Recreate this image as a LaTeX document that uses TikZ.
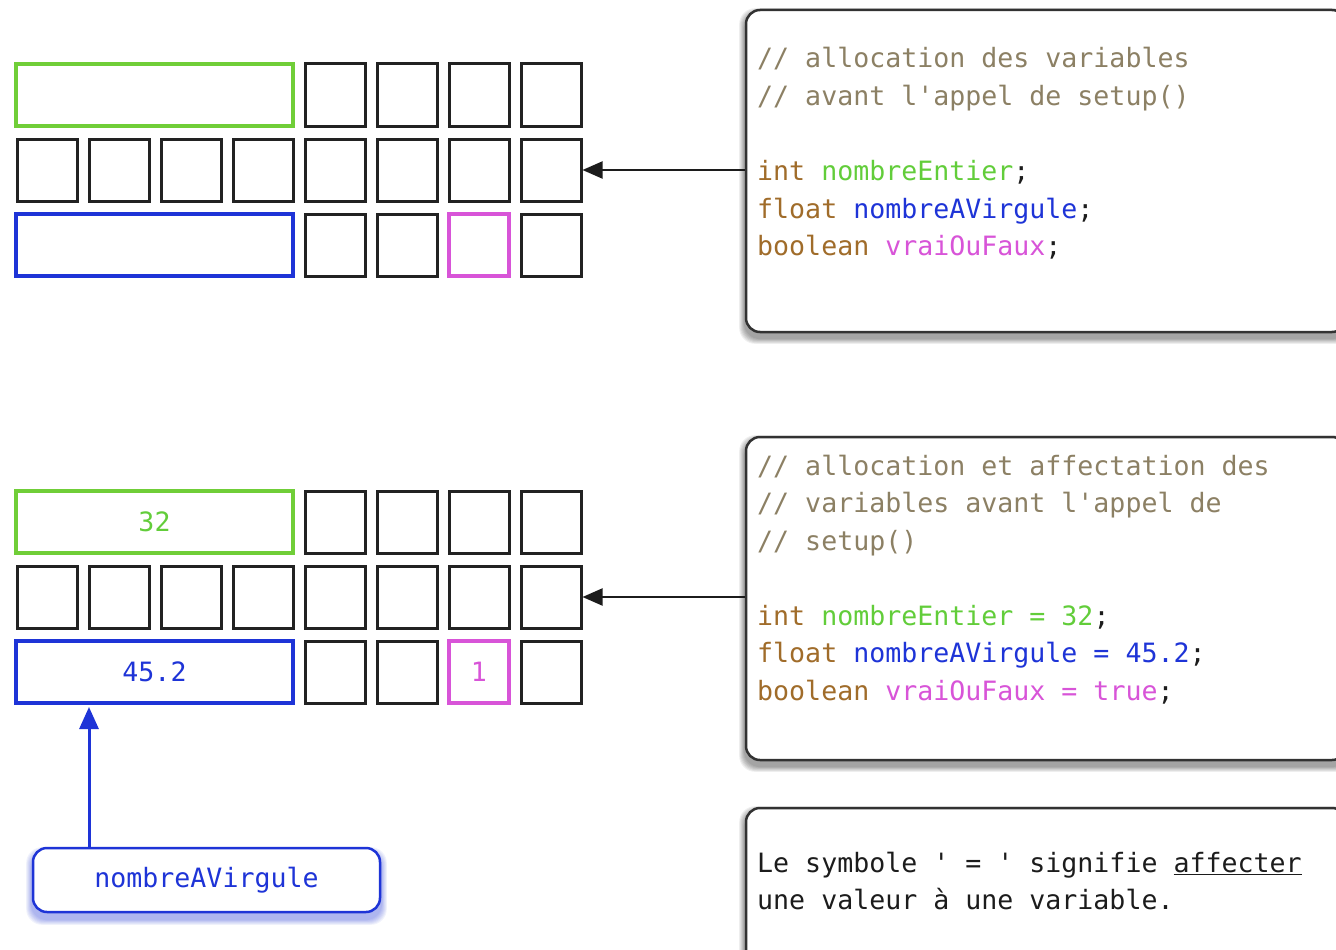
\documentclass[tikz,border=0pt]{standalone}
\usepackage{fontspec}
\setmonofont{DejaVu Sans Mono}
\usetikzlibrary{arrows.meta,backgrounds,calc}

\definecolor{cmt}{RGB}{140,128,100}
\definecolor{kw}{RGB}{160,108,42}
\definecolor{grn}{RGB}{98,205,58}
\definecolor{grnbox}{RGB}{112,206,56}
\definecolor{blu}{RGB}{30,52,215}
\definecolor{pnk}{RGB}{216,84,216}
\definecolor{ink}{RGB}{28,28,28}
\definecolor{cellk}{RGB}{34,34,34}
\definecolor{frame}{RGB}{50,50,50}

% soft halo behind a node: node name, colour, downward offset
\newcommand{\boxglow}[3]{%
  \begin{scope}[on background layer]
    \foreach \k in {1,...,7}
      \fill[#2, opacity=0.06, rounded corners=16pt]
        ($(#1.south west)+(-\k*0.8, #3+\k*0.8)$) rectangle
        ($(#1.north east)+(\k*0.8, #3-\k*0.8)$);
  \end{scope}}

\tikzset{
  mono/.style={font=\ttfamily\fontsize{26.6}{37.5}\selectfont},
  code/.style={mono, anchor=base west, inner sep=0pt, text=ink},
  cell/.style={draw=cellk, line width=3pt, minimum width=60pt,
               minimum height=62pt, inner sep=0pt},
  wide/.style={cell, line width=3.5pt, minimum width=277pt},
  num/.style={mono, inner sep=0pt},
  codebox/.style={draw=frame, line width=2.5pt, fill=white,
                  rounded corners=14pt, minimum width=600pt},
  lbl/.style={draw=blu, line width=2.5pt, fill=white, rounded corners=14pt,
              minimum width=347pt, minimum height=64pt, mono, text=blu},
  link/.style={draw=ink, line width=2pt,
               -{Triangle[length=20pt,width=17pt]}},
  bluelink/.style={draw=blu, line width=3pt,
                   -{Triangle[length=22pt,width=19pt]}}
}

\begin{document}
\begin{tikzpicture}[x=1pt,y=-1pt]
\useasboundingbox (0,0) rectangle (1336,950);
\clip (0,0) rectangle (1336,950);
\begin{scope}[on background layer]
  \fill[white] (0,0) rectangle (1336,950);
\end{scope}

% memory grids: before and after assignment
\foreach \g/\dy in {a/0, b/427} {
  \node[wide, draw=grnbox] (\g-0-w) at (154.5, 95+\dy) {};
  \foreach \c in {4,...,7}
    \node[cell] (\g-0-\c) at (47+72*\c, 95+\dy) {};
  \foreach \c in {0,...,7}
    \node[cell] (\g-1-\c) at (47+72*\c, 170+\dy) {};
  \node[wide, draw=blu] (\g-2-w) at (154.5, 245+\dy) {};
  \foreach \c in {4,5,7}
    \node[cell] (\g-2-\c) at (47+72*\c, 245+\dy) {};
  \node[cell, line width=3.5pt, draw=pnk] (\g-2-6) at (479, 245+\dy) {};
}

% stored values
\node[num, text=grn] (v32) at (b-0-w.center) {32};
\node[num, text=blu] (v452) at (b-2-w.center) {45.2};
\node[num, text=pnk] (v1) at (b-2-6.center) {1};

% code boxes
\node[codebox, minimum height=322pt] (box1) at (1046,171) {};
\node[codebox, minimum height=323pt] (box2) at (1046,598.5) {};
\node[codebox, minimum height=292pt] (box3) at (1046,954) {};
\boxglow{box1}{black}{5}
\boxglow{box2}{black}{5}
\boxglow{box3}{black}{5}

% declarations only
\node[code, text=cmt] (p1) at (757,68) {// allocation des variables};
\node[code, text=cmt] (p2) at (757,105.5) {// avant l'appel de setup()};
\node[code] (p3) at (757,180.5) {\textcolor{kw}{int} \textcolor{grn}{nombreEntier};};
\node[code] (p4) at (757,218) {\textcolor{kw}{float} \textcolor{blu}{nombreAVirgule};};
\node[code] (p5) at (757,255.5) {\textcolor{kw}{boolean} \textcolor{pnk}{vraiOuFaux};};

% declarations with assignment
\node[code, text=cmt] (q1) at (757,475) {// allocation et affectation des};
\node[code, text=cmt] (q2) at (757,512.5) {// variables avant l'appel de};
\node[code, text=cmt] (q3) at (757,550) {// setup()};
\node[code] (q4) at (757,625) {\textcolor{kw}{int} \textcolor{grn}{nombreEntier = 32};};
\node[code] (q5) at (757,662.5) {\textcolor{kw}{float} \textcolor{blu}{nombreAVirgule = 45.2};};
\node[code] (q6) at (757,700) {\textcolor{kw}{boolean} \textcolor{pnk}{vraiOuFaux = true};};

% note on the assignment operator
\node[code] (r1) at (757,872) {Le symbole ' = ' signifie \underline{affecter}};
\node[code] (r2) at (757,909.5) {une valeur à une variable.};

% links from code to memory
\draw[link] (box1.west |- a-1-7.east) -- (a-1-7.east);
\draw[link] (box2.west |- b-1-7.east) -- (b-1-7.east);

% variable name tag
\node[lbl] (lab) at (206.5,880) {nombreAVirgule};
\boxglow{lab}{blu}{6}
\coordinate (tip) at (89,707);
\draw[bluelink] (lab.north -| tip) -- (tip);
\end{tikzpicture}
\end{document}
